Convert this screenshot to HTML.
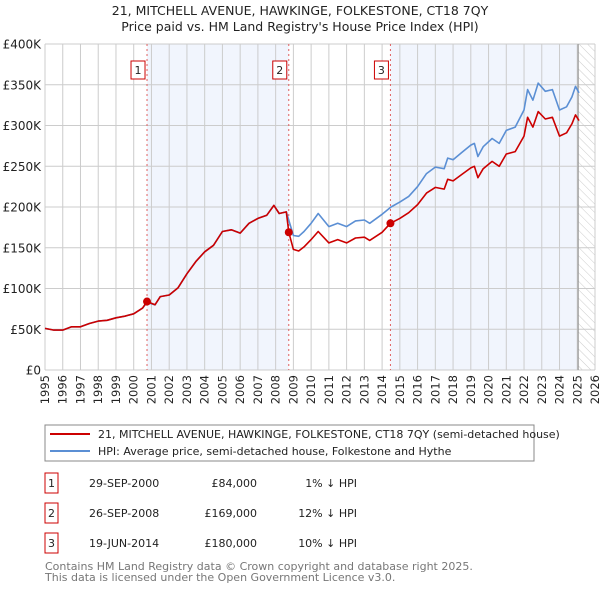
<!DOCTYPE html>
<html><head><meta charset="utf-8"><style>
body{margin:0;background:#fff;width:600px;height:590px;overflow:hidden;font-family:"DejaVu Sans","Liberation Sans",sans-serif;}
svg text{font-family:"DejaVu Sans","Liberation Sans",sans-serif;}
</style></head><body>
<svg id="chart" width="600" height="590" xmlns="http://www.w3.org/2000/svg">
<text x="300" y="15" text-anchor="middle" font-size="12.5" fill="#222">21, MITCHELL AVENUE, HAWKINGE, FOLKESTONE, CT18 7QY</text>
<text x="300" y="31" text-anchor="middle" font-size="12.5" fill="#222">Price paid vs. HM Land Registry's House Price Index (HPI)</text>
<g id="plot"></g>
<rect x="45" y="425" width="489" height="36" fill="#fff" stroke="#888"/>
<line x1="50" y1="434" x2="90" y2="434" stroke="#cc0000" stroke-width="2"/>
<text x="98" y="438" font-size="11" fill="#222">21, MITCHELL AVENUE, HAWKINGE, FOLKESTONE, CT18 7QY (semi-detached house)</text>
<line x1="50" y1="451" x2="90" y2="451" stroke="#5b8fd4" stroke-width="2"/>
<text x="98" y="455" font-size="11" fill="#222">HPI: Average price, semi-detached house, Folkestone and Hythe</text>
<g id="table" font-size="11" fill="#222"></g>
<text x="45" y="570" font-size="11" fill="#777">Contains HM Land Registry data © Crown copyright and database right 2025.</text>
<text x="45" y="581" font-size="11" fill="#777">This data is licensed under the Open Government Licence v3.0.</text>
</svg>
<script>
const hpiYears=[1995,1995.5,1996,1996.5,1997,1997.5,1998,1998.5,1999,1999.5,2000,2000.5,2000.75,2001.2,2001.5,2002,2002.5,2003,2003.5,2004,2004.5,2005,2005.5,2006,2006.5,2007,2007.5,2007.9,2008.2,2008.6,2009.0,2009.3,2009.6,2010.0,2010.4,2011.0,2011.5,2012,2012.5,2013,2013.3,2014,2014.5,2015,2015.5,2016,2016.5,2017,2017.5,2017.7,2018,2018.5,2019,2019.2,2019.4,2019.7,2020.2,2020.6,2021,2021.5,2022,2022.2,2022.5,2022.8,2023.2,2023.6,2024,2024.4,2024.7,2024.9,2025.1];
const hpiValues=[51,49,49,53,53,57,60,61,64,66,69,76,83,80,90,92,101,118,133,145,153,170,172,168,180,186,190,202,192,194,165,164,170,180,192,176,180,176,183,184,180,191,200,206,213,225,241,249,247,260,258,267,276,278,262,274,284,278,294,298,319,344,331,352,342,344,319,323,335,348,340];
const ppYears=[1995,1995.5,1996,1996.5,1997,1997.5,1998,1998.5,1999,1999.5,2000,2000.5,2000.75,2001.2,2001.5,2002,2002.5,2003,2003.5,2004,2004.5,2005,2005.5,2006,2006.5,2007,2007.5,2007.9,2008.2,2008.6,2008.74,2009.0,2009.3,2009.6,2010.0,2010.4,2011.0,2011.5,2012,2012.5,2013,2013.3,2014,2014.47,2015,2015.5,2016,2016.5,2017,2017.5,2017.7,2018,2018.5,2019,2019.2,2019.4,2019.7,2020.2,2020.6,2021,2021.5,2022,2022.2,2022.5,2022.8,2023.2,2023.6,2024,2024.4,2024.7,2024.9,2025.1];
const ppValues=[51,49,49,53,53,57,60,61,64,66,69,76,84,80,90,92,101,118,133,145,153,170,172,168,180,186,190,202,192,194,169,148,146,151,160,170,156,160,156,162,163,159,169,180,186,193,203,217,224,222,234,232,240,248,250,236,247,256,250,265,268,287,310,298,317,308,310,287,291,302,313,306];
const saleYears=[2000.75,2008.74,2014.47];
const saleValues=[84,169,180];
const saleLabels=["1","2","3"];
const saleDates=["29-SEP-2000","26-SEP-2008","19-JUN-2014"];
const salePrices=["£84,000","£169,000","£180,000"];
const saleDiffs=["1% ↓ HPI","12% ↓ HPI","10% ↓ HPI"];
const yTicks=[0,50,100,150,200,250,300,350,400];
const yTickLabels=["£0","£50K","£100K","£150K","£200K","£250K","£300K","£350K","£400K"];
const xTicks=[1995,1996,1997,1998,1999,2000,2001,2002,2003,2004,2005,2006,2007,2008,2009,2010,2011,2012,2013,2014,2015,2016,2017,2018,2019,2020,2021,2022,2023,2024,2025,2026];

const NS="http://www.w3.org/2000/svg";
const L=45,R=595,T=44,B=370,X0=1995,X1=2026,YMAX=400,DATA_END=2025.05;
const xs=y=>L+(y-X0)/(X1-X0)*(R-L);
const ys=v=>B-v/YMAX*(B-T);
const plot=document.getElementById('plot');
function mk(tag,attrs,parent){const e=document.createElementNS(NS,tag);for(const k in attrs)e.setAttribute(k,attrs[k]);(parent||plot).appendChild(e);return e;}

let defs=mk('defs',{});
let pat=mk('pattern',{id:'hatch',width:6,height:6,patternUnits:'userSpaceOnUse',patternTransform:'rotate(-45)'},defs);
mk('line',{x1:0,y1:0,x2:0,y2:6,stroke:'#ccc','stroke-width':1},pat);

let bg=mk('rect',{x:L,y:T,width:R-L,height:B-T,fill:'#fff'});


// shaded ownership bands
const bands=[[saleYears[0],saleYears[1]],[saleYears[2],DATA_END]];
bands.forEach((b,i)=>{
  let r=mk('rect',{x:xs(b[0]),y:T,width:xs(b[1])-xs(b[0]),height:B-T,fill:'#eef3fc',opacity:0.8});
  
  
});
let h=mk('rect',{x:xs(DATA_END),y:T,width:R-xs(DATA_END),height:B-T,fill:'url(#hatch)'});


// grid
xTicks.forEach(t=>{
  let g=mk('line',{x1:xs(t),y1:T,x2:xs(t),y2:B,stroke:'#ccc','stroke-width':1});
  
  
  let tx=mk('text',{x:0,y:0,'font-size':11.5,fill:'#222','text-anchor':'end',transform:`translate(${xs(t)+4},${B+5}) rotate(-90)`});
  tx.textContent=t;
  
  
});
yTicks.forEach((t,i)=>{
  let g=mk('line',{x1:L,y1:ys(t),x2:R,y2:ys(t),stroke:'#ccc','stroke-width':1});
  
  
  let tx=mk('text',{x:L-4,y:ys(t)+4.5,'font-size':12,fill:'#222','text-anchor':'end'});
  tx.textContent=yTickLabels[i];
  
  
});
let dl=mk('line',{x1:xs(DATA_END),y1:T,x2:xs(DATA_END),y2:B,stroke:'#999','stroke-width':1.2});


// sale markers lines
saleYears.forEach((s,i)=>{
  let l=mk('line',{x1:xs(s),y1:T,x2:xs(s),y2:B,stroke:'#e06060','stroke-width':1,'stroke-dasharray':'2,3'});
  
  
  let bx=mk('rect',{x:xs(s)-16,y:61,width:14,height:18,fill:'#fff',stroke:'#cc0000','stroke-width':1});
  
  
  let t=mk('text',{x:xs(s)-9,y:74,'font-size':11,fill:'#222','text-anchor':'middle'});
  t.textContent=saleLabels[i];
  
  
});
function line(years,vals,color,name){
  let d=years.map((y,i)=>(i?'L':'M')+xs(y).toFixed(1)+','+ys(vals[i]).toFixed(1)).join(' ');
  let p=mk('path',{d:d,fill:'none',stroke:color,'stroke-width':1.6,'stroke-linejoin':'round'});
  
  
}
line(hpiYears,hpiValues,'#5b8fd4','hpi-line');
line(ppYears,ppValues,'#cc0000','price-paid-line');
saleYears.forEach((s,i)=>{
  let c=mk('circle',{cx:xs(s),cy:ys(saleValues[i]),r:4,fill:'#cc0000'});
  
  
});
// table
const tbl=document.getElementById('table');
saleLabels.forEach((lab,i)=>{
  const cy=483+i*30;
  let b=mk('rect',{x:45,y:cy-10,width:13,height:20,fill:'#fff',stroke:'#cc0000'},tbl);
  
  
  let t1=mk('text',{x:51.5,y:cy+4,'text-anchor':'middle'},tbl);t1.textContent=lab;
  
  
  let t2=mk('text',{x:89,y:cy+4},tbl);t2.textContent=saleDates[i];
  
  
  let t3=mk('text',{x:257,y:cy+4,'text-anchor':'end'},tbl);t3.textContent=salePrices[i];
  
  
  let t4=mk('text',{x:357,y:cy+4,'text-anchor':'end'},tbl);t4.textContent=saleDiffs[i];
  
  
});
</script>
</body></html>
